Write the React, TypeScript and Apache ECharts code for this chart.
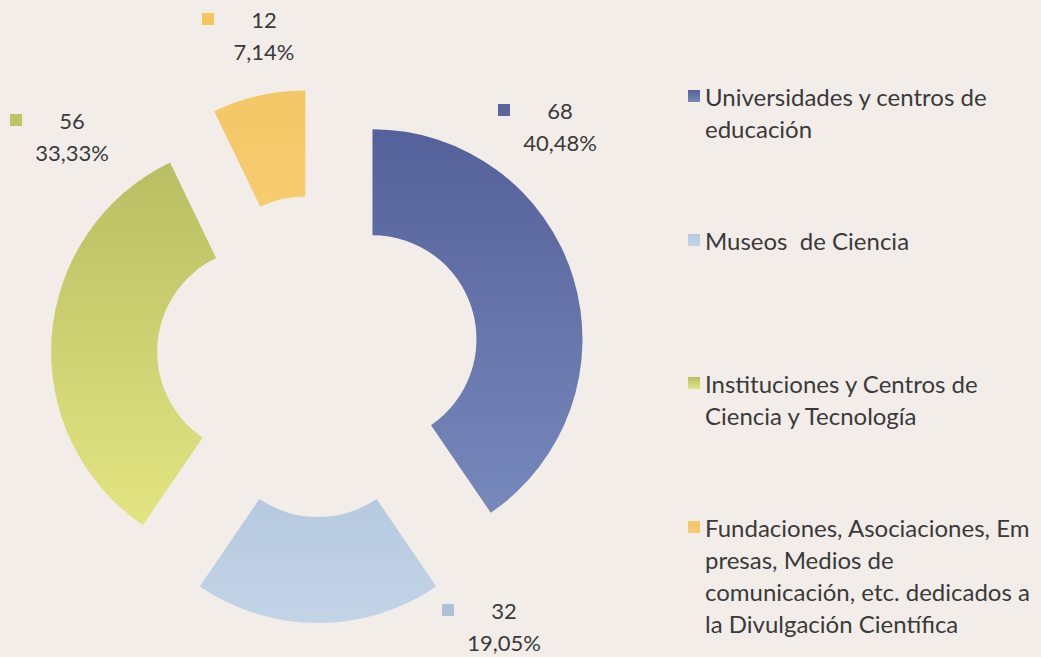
import React, { useEffect, useRef } from "react";
import * as echarts from "echarts";

const CATEGORIES = [
  "Universidades y centros de educación",
  "Museos  de Ciencia",
  "Instituciones y Centros de Ciencia y Tecnología",
  "Fundaciones, Asociaciones, Empresas, Medios de comunicación, etc. dedicados a la Divulgación Científica",
];
const LEGEND_TEXT = [
  "Universidades y centros de\neducación",
  "Museos  de Ciencia",
  "Instituciones y Centros de\nCiencia y Tecnología",
  "Fundaciones, Asociaciones, Em\npresas, Medios de\ncomunicación, etc. dedicados a\nla Divulgación Científica",
];
const VALUES = [68, 32, 56, 12];

const COLORS_TOP = ["#55619a", "#b7c9df", "#b8be62", "#f4c766"];
const COLORS_BOTTOM = ["#7788bb", "#c3d4e7", "#e3e582", "#f6cc70"];
const MARKER_COLORS = ["#5a6698", "#adc0d8", "#bfc469", "#f4c65e"];

// data-label block anchors (left, top) in px
const LABEL_ANCHORS = [
  [498, 94],
  [442, 594],
  [10, 104],
  [202, 3],
];
// legend first-line centers
const LEGEND_LINE_Y = [96, 240, 383, 527];

const FONT = "Lato, 'Open Sans', sans-serif";
const TEXT_COLOR = "#3a3a3a";
const LH = 32;

export default function App() {
  const ref = useRef<HTMLDivElement>(null);
  useEffect(() => {
    if (!ref.current) return;
    const chart = echarts.init(ref.current, undefined, { renderer: "svg" });
    const total = VALUES.reduce((a, b) => a + b, 0);
    const pct = (v: number) => ((v / total) * 100).toFixed(2).replace(".", ",") + "%";

    const data = VALUES.map((v, i) => ({
      name: CATEGORIES[i],
      value: v,
      selected: true,
      itemStyle: {
        color: {
          type: "linear",
          x: 0,
          y: 0,
          x2: 0,
          y2: 1,
          colorStops: [
            { offset: 0, color: COLORS_TOP[i] },
            { offset: 1, color: COLORS_BOTTOM[i] },
          ],
        },
      },
    }));

    const legends = CATEGORIES.map((name, i) => {
      const n = LEGEND_TEXT[i].split("\n").length;
      const pre = " \n".repeat(n - 1);
      return {
        data: [name],
        orient: "vertical",
        left: 688,
        top: LEGEND_LINE_Y[i] - ((2 * n - 1) * LH) / 2,
        padding: 0,
        icon: "rect",
        itemWidth: 12,
        itemHeight: 12,
        selectedMode: false,
        formatter: () => pre + LEGEND_TEXT[i],
        textStyle: {
          fontFamily: FONT,
          fontSize: 24,
          color: TEXT_COLOR,
          lineHeight: LH,
        },
      };
    });

    const labelGraphics = VALUES.map((v, i) => ({
      type: "text",
      x: LABEL_ANCHORS[i][0],
      y: LABEL_ANCHORS[i][1],
      silent: true,
      style: {
        text: `{m|}{g|}{v|${v}}\n{s|}{p|${pct(v)}}`,
        align: "left",
        verticalAlign: "top",
        fontFamily: FONT,
        fontSize: 22,
        fill: TEXT_COLOR,
        rich: {
          m: { width: 12, height: 12, backgroundColor: MARKER_COLORS[i] },
          g: { width: 10, height: 12 },
          s: { width: 22, height: 12 },
          v: { width: 80, align: "center", fontSize: 22, fontFamily: FONT, fill: TEXT_COLOR, lineHeight: LH },
          p: { width: 80, align: "center", fontSize: 22, fontFamily: FONT, fill: TEXT_COLOR, lineHeight: LH },
        },
      },
    }));

    chart.setOption({
      animation: false,
      backgroundColor: "#f2ede9",
      legend: legends,
      graphic: labelGraphics,
      series: [
        {
          type: "pie",
          center: [318, 356],
          radius: [104, 210],
          startAngle: 90,
          clockwise: true,
          selectedMode: "multiple",
          selectedOffset: 57,
          avoidLabelOverlap: false,
          emphasis: { disabled: true },
          labelLine: { show: false },
          label: { show: false },
          data,
        },
      ],
    });
    return () => chart.dispose();
  }, []);
  return (
    <div
      ref={ref}
      style={{ position: "fixed", left: 0, top: 0, width: 1041, height: 657 }}
    />
  );
}
